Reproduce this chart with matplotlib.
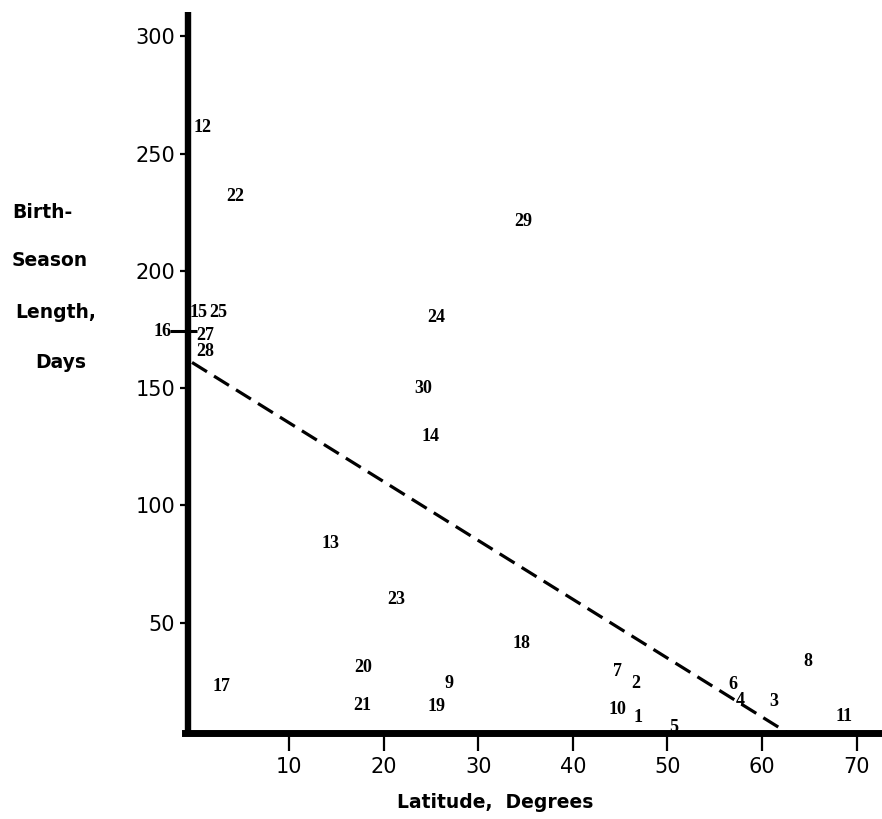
import matplotlib
matplotlib.use("Agg")
import matplotlib.pyplot as plt

# ---- data ----
site_ids = ["1", "2", "3", "4", "5", "6", "7", "8", "9", "10",
            "11", "12", "13", "14", "15", "16", "17", "18", "19", "20",
            "21", "22", "23", "24", "25", "27", "28", "29", "30"]
latitude = [46.9, 46.7, 61.2, 57.7, 50.7, 56.9, 44.7, 64.8, 26.9, 44.7,
            68.7, 0.9, 14.4, 25.0, 0.4, -3.4, 2.9, 34.6, 25.6, 17.8,
            17.7, 4.3, 21.3, 25.6, 2.5, 1.1, 1.1, 34.8, 24.2]
season_days = [9.4, 23.9, 16.6, 17.0, 5.5, 23.5, 29.0, 33.3, 24.3, 13.2,
               10.2, 261.0, 83.6, 129.6, 182.5, 174.4, 22.6, 41.0, 14.1, 31.0,
               14.5, 231.6, 59.7, 180.0, 182.5, 172.7, 165.5, 221.0, 149.7]

fit_x = [-0.25, 63.0]
fit_y = [161.0, 2.3]

x_ticks = [10, 20, 30, 40, 50, 60, 70]
y_ticks = [50, 100, 150, 200, 250, 300]
y_label_lines = ["Birth-", "Season", "Length,", "Days"]
x_label = "Latitude,  Degrees"

NUM_FONT = ["Liberation Sans Narrow", "DejaVu Sans Condensed", "Liberation Serif"]

# ---- figure ----
fig = plt.figure(figsize=(8.82, 8.19), dpi=100)
ax = fig.add_axes([0, 0, 1, 1])
ax.set_xlim(-20.55, 72.68)
ax.set_ylim(-33.69, 315.56)
ax.patch.set_alpha(0)

for s in ["top", "right"]:
    ax.spines[s].set_visible(False)
ax.spines["left"].set_position(("data", -0.7))
ax.spines["left"].set_bounds(3, 310.5)
ax.spines["left"].set_linewidth(4.6)
ax.spines["bottom"].set_position(("data", 3))
ax.spines["bottom"].set_bounds(-1.0, 72.7)
ax.spines["bottom"].set_linewidth(5.0)
ax.spines["left"].set_capstyle("butt")

ax.set_xticks(x_ticks)
ax.set_yticks(y_ticks)
ax.set_xticklabels([str(t) for t in x_ticks])
ax.set_yticklabels([str(t) for t in y_ticks])
ax.tick_params(axis="y", direction="out", length=6, width=1.6, pad=3,
               labelsize=15, colors="black")
ax.tick_params(axis="x", direction="out", length=13, width=1.6, pad=4,
               labelsize=15, colors="black")
for lab in ax.get_xticklabels() + ax.get_yticklabels():
    lab.set_family("DejaVu Sans")

# dashed fit line
ax.plot(fit_x, fit_y, color="black", lw=2.3, dashes=(5.5, 2.6),
        solid_capstyle="butt", dash_capstyle="butt", zorder=1)

# site numbers as point labels
for sid, xv, yv in zip(site_ids, latitude, season_days):
    ax.text(xv, yv, sid, ha="center", va="center", fontsize=13,
            fontweight="bold", family=NUM_FONT)

# leader dash for site 16
ax.plot([-2.6, 0.3], [174.4, 174.4], color="black", lw=2.2,
        solid_capstyle="butt")

# y axis label lines (left of the axis)
ylab_pos = [(12, 212), (12, 260), (15, 312), (35, 363)]
for txt, (px, py) in zip(y_label_lines, ylab_pos):
    fig.text(px / 882, 1 - py / 819, txt, ha="left", va="center",
             fontsize=13.5, fontweight="bold", family="DejaVu Sans")

fig.text(495 / 882, 1 - 803 / 819, x_label, ha="center", va="center",
         fontsize=13.5, fontweight="bold", family="DejaVu Sans")

fig.savefig("out.png", dpi=100)
